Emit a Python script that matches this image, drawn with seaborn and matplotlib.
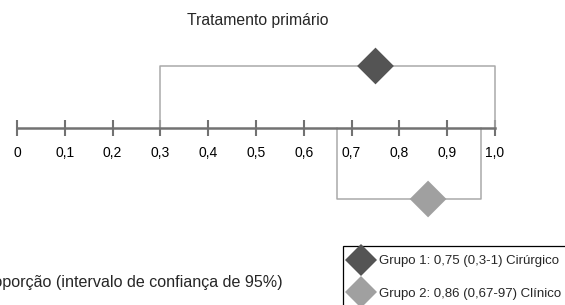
import pandas as pd
import seaborn as sns
import matplotlib
matplotlib.use("Agg")
import matplotlib.pyplot as plt

groups = ["Grupo 1: 0,75 (0,3-1) Cirúrgico", "Grupo 2: 0,86 (0,67-97) Clínico"]
prop = [0.75, 0.86]
ci_low = [0.3, 0.67]
ci_high = [1.0, 0.97]
colors = ["#545454", "#a0a0a0"]
tick_vals = [0, 0.1, 0.2, 0.3, 0.4, 0.5, 0.6, 0.7, 0.8, 0.9, 1.0]
tick_labels = ["0", "0,1", "0,2", "0,3", "0,4", "0,5", "0,6", "0,7", "0,8", "0,9", "1,0"]

# vertical layout (pixels from top)
axis_y = 128
levels = [66, 199]

sns.set_style("white")
plt.rcParams['font.family'] = ['Liberation Sans', 'DejaVu Sans']

W, H = 565, 305
fig = plt.figure(figsize=(W / 100, H / 100), dpi=100)
ax = fig.add_axes([0, 0, 1, 1])
ax.set_xlim(-17 / 478, 1 + 70 / 478)
ax.set_ylim(H, 0)

# confidence interval brackets
for lo, hi, lev in zip(ci_low, ci_high, levels):
    ax.plot([lo, lo, hi, hi], [axis_y, lev, lev, axis_y], color="#a9a9a9", lw=1.1, zorder=1)

df = pd.DataFrame({"grupo": groups, "prop": prop, "nivel": levels})
sns.scatterplot(data=df, x="prop", y="nivel", hue="grupo", palette=colors,
                marker="D", s=350, linewidth=0, edgecolor="none", ax=ax, zorder=3)

sns.move_legend(ax, loc="upper left", bbox_to_anchor=(343 / W, 1 - 246 / H),
                bbox_transform=fig.transFigure, title="", frameon=True, fancybox=False,
                fontsize=9.5, markerscale=0.85, labelspacing=1.5, borderpad=0.7,
                handlelength=1.4, handletextpad=0.6, borderaxespad=0)
leg = ax.get_legend()
leg.get_frame().set_edgecolor("black")
leg.get_frame().set_linewidth(0.9)
leg.get_frame().set_alpha(1)

# number line
for s in ["top", "left", "right"]:
    ax.spines[s].set_visible(False)
ax.spines["bottom"].set_position(("data", axis_y))
ax.spines["bottom"].set_bounds(0, 1)
ax.spines["bottom"].set_color("#727272")
ax.spines["bottom"].set_linewidth(1.8)
ax.set_xticks(tick_vals)
ax.set_xticklabels(tick_labels)
ax.tick_params(axis="x", bottom=True, direction="inout", length=12, width=1.5,
               color="#727272", pad=7, labelsize=10, labelcolor="black")
ax.set_yticks([])
ax.set_xlabel("")
ax.set_ylabel("")

fig.text(258 / W, 1 - 21 / H, "Tratamento primário", ha="center", va="center", fontsize=11.3)
fig.text(283 / W, 1 - 282 / H, "Proporção (intervalo de confiança de 95%)",
         ha="right", va="center", fontsize=11.6)

fig.savefig("out.png", dpi=100)
